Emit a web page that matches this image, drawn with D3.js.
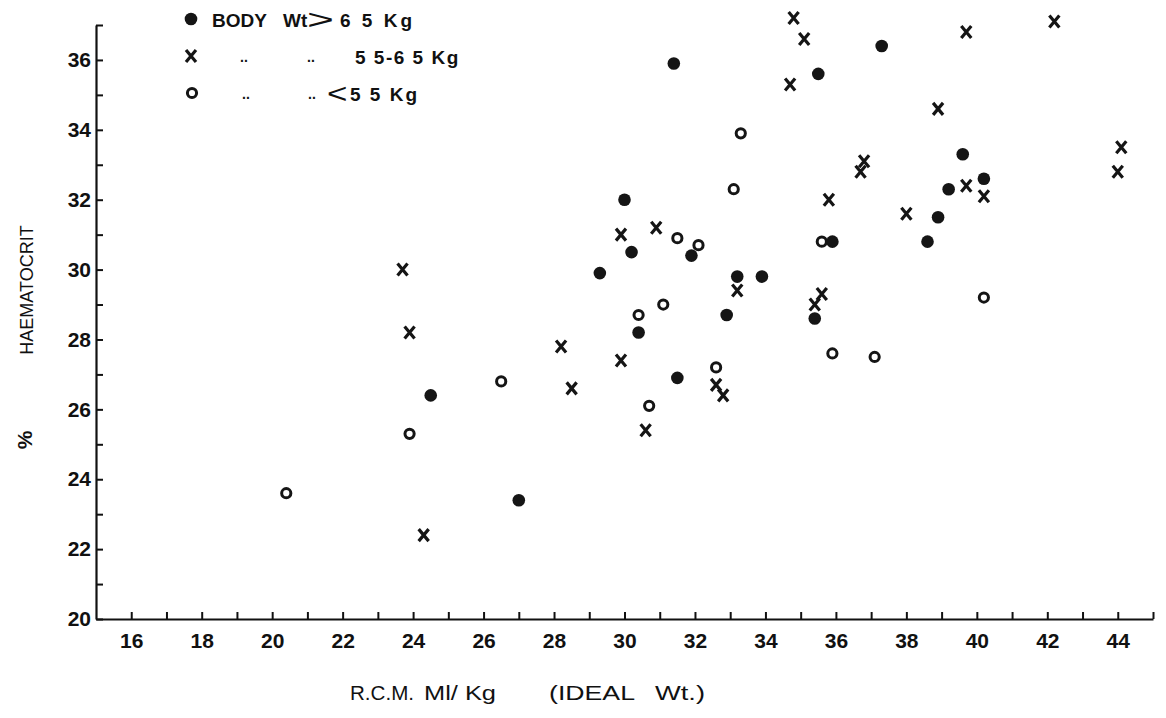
<!DOCTYPE html>
<html>
<head>
<meta charset="utf-8">
<script src="https://cdn.jsdelivr.net/npm/d3@7/dist/d3.min.js"></script>
<style>
	body { margin: 0; background: #fff; }
	#scatter { width: 1166px; height: 718px; }
	text { font-family: "Liberation Sans", Arial, sans-serif; fill: #111; }
</style>
</head>
<body>
<div id="scatter"></div>
<script>
// body wt > 65 kg (filled dots)
const heavyRcm = [31.4, 35.5, 37.3, 30.0, 30.2, 31.9, 29.3, 33.2, 33.9, 35.9, 32.9, 30.4, 35.4, 31.5, 24.5, 27.0, 39.6, 40.2, 39.2, 38.9, 38.6];
const heavyHct = [35.9, 35.6, 36.4, 32.0, 30.5, 30.4, 29.9, 29.8, 29.8, 30.8, 28.7, 28.2, 28.6, 26.9, 26.4, 23.4, 33.3, 32.6, 32.3, 31.5, 30.8];

// body wt 55-65 kg (crosses)
const midRcm = [34.8, 35.1, 34.7, 42.2, 39.7, 38.9, 44.1, 44.0, 36.8, 36.7, 35.8, 39.7, 40.2, 38.0, 30.9, 29.9, 33.2, 35.6, 35.4, 29.9, 28.2, 28.5, 32.6, 32.8, 30.6, 23.7, 23.9, 24.3];
const midHct = [37.2, 36.6, 35.3, 37.1, 36.8, 34.6, 33.5, 32.8, 33.1, 32.8, 32.0, 32.4, 32.1, 31.6, 31.2, 31.0, 29.4, 29.3, 29.0, 27.4, 27.8, 26.6, 26.7, 26.4, 25.4, 30.0, 28.2, 22.4];

// body wt < 55 kg (open circles)
const lightRcm = [33.3, 33.1, 31.5, 32.1, 35.6, 31.1, 30.4, 40.2, 35.9, 37.1, 32.6, 30.7, 26.5, 23.9, 20.4];
const lightHct = [33.9, 32.3, 30.9, 30.7, 30.8, 29.0, 28.7, 29.2, 27.6, 27.5, 27.2, 26.1, 26.8, 25.3, 23.6];

const xTickLabels = [16, 18, 20, 22, 24, 26, 28, 30, 32, 34, 36, 38, 40, 42, 44];
const yTickLabels = [20, 22, 24, 26, 28, 30, 32, 34, 36];

function initScatter() {
	d3.select("#scatter").html('');
	const margin = {top: 25, right: 13, bottom: 99, left: 96},
			width = 1166 - margin.left - margin.right,
			height = 718 - margin.top - margin.bottom;

	const root = d3.select("#scatter")
		.append("svg")
			.attr("width", width + margin.left + margin.right)
			.attr("height", height + margin.top + margin.bottom);
	const svg = root.append("g")
			.attr("transform", `translate(${margin.left},${margin.top})`);

	// Add X axis - R.C.M. ml/kg
	const x = d3.scaleLinear()
		.domain([15, 45])
		.range([0, width]);
	const gx = svg.append("g")
		.attr("transform", `translate(0, ${height})`)
		.call(d3.axisBottom(x)
			.tickValues(d3.range(16, 46))
			.tickSizeInner(-7)
			.tickSizeOuter(0)
			.tickPadding(14)
			.tickFormat(d => xTickLabels.includes(d) ? d : ""));

	// Add Y axis - haematocrit %
	const y = d3.scaleLinear()
		.domain([20, 37])
		.range([height, 0]);
	const gy = svg.append("g")
		.call(d3.axisLeft(y)
			.tickValues(d3.range(20, 38))
			.tickSizeInner(-7)
			.tickSizeOuter(0)
			.tickPadding(5)
			.tickFormat(d => yTickLabels.includes(d) ? d : ""));

	[gx, gy].forEach(g => {
		g.select(".domain").attr("stroke", "#111").attr("stroke-width", 2.2);
		g.selectAll(".tick line").attr("stroke", "#111").attr("stroke-width", 2);
		g.selectAll(".tick text")
			.attr("fill", "#111")
			.style("font-size", "21px")
			.style("font-weight", "bold");
	});

	// axis titles
	root.append("text")
		.attr("transform", "translate(33,290) rotate(-90)")
		.attr("text-anchor", "middle")
		.style("font-size", "18px")
		.text("HAEMATOCRIT");
	root.append("text")
		.attr("transform", "translate(32,440) rotate(-90)")
		.attr("text-anchor", "middle")
		.style("font-size", "21px")
		.style("font-weight", "bold")
		.text("%");

	// x title pieces, glyphs stretched to the wide lettering
	[["R.C.M.", 350, 64], ["Ml/ Kg", 424, 72], ["(IDEAL", 549, 86], ["Wt.)", 655, 50]].forEach(p => {
		root.append("text")
			.attr("x", p[1])
			.attr("y", 700)
			.attr("textLength", p[2])
			.attr("lengthAdjust", "spacingAndGlyphs")
			.style("font-size", "20px")
			.text(p[0]);
	});

	// Render markers
	const ink = "#151515";
	svg.append('g')
		.selectAll("circle")
		.data(d3.zip(heavyRcm, heavyHct))
		.join("circle")
			.attr("cx", d => x(d[0]))
			.attr("cy", d => y(d[1]))
			.attr("r", 6.3)
			.style("fill", ink);

	svg.append('g')
		.selectAll("circle")
		.data(d3.zip(lightRcm, lightHct))
		.join("circle")
			.attr("cx", d => x(d[0]))
			.attr("cy", d => y(d[1]))
			.attr("r", 4.6)
			.style("fill", "none")
			.style("stroke", ink)
			.style("stroke-width", 3);

	const cross = "M-5,-6L5,6M5,-6L-5,6";
	svg.append('g')
		.selectAll("path")
		.data(d3.zip(midRcm, midHct))
		.join("path")
			.attr("transform", d => `translate(${x(d[0])},${y(d[1])})`)
			.attr("d", cross)
			.style("fill", "none")
			.style("stroke", ink)
			.style("stroke-width", 3.2);

	// Legend
	const legend = root.append("g");
	legend.append("circle")
		.attr("cx", 191).attr("cy", 19).attr("r", 6.3)
		.style("fill", ink);
	legend.append("path")
		.attr("transform", "translate(191,56)")
		.attr("d", cross)
		.style("fill", "none").style("stroke", ink).style("stroke-width", 3.2);
	legend.append("circle")
		.attr("cx", 192).attr("cy", 93).attr("r", 4.6)
		.style("fill", "none").style("stroke", ink).style("stroke-width", 3);

	const bold = sel => sel.style("font-size", "19px").style("font-weight", "bold");
	legend.append("text").attr("x", 212).attr("y", 27).call(bold).text("BODY");
	legend.append("text").attr("x", 283).attr("y", 27).call(bold).text("Wt");
	legend.append("text")
		.attr("transform", "translate(307,29) scale(1.65,1)")
		.style("font-size", "28px")
		.text(">");
	legend.append("text").attr("x", 340).attr("y", 27).call(bold)
		.style("letter-spacing", "3px").text("6 5 Kg");

	// ditto marks
	[[240, 62], [307, 62], [242, 99], [308, 99]].forEach(p => {
		legend.append("text")
			.attr("x", p[0]).attr("y", p[1])
			.style("font-size", "14px")
			.style("font-weight", "bold")
			.text("..");
	});
	legend.append("text").attr("x", 355).attr("y", 64).call(bold)
		.style("letter-spacing", "1.5px").text("5 5-6 5 Kg");
	legend.append("text")
		.attr("transform", "translate(327,103) scale(1.25,1)")
		.style("font-size", "28px")
		.text("<");
	legend.append("text").attr("x", 350).attr("y", 101).call(bold)
		.style("letter-spacing", "2px").text("5 5 Kg");
}

initScatter();
</script>
</body>
</html>
